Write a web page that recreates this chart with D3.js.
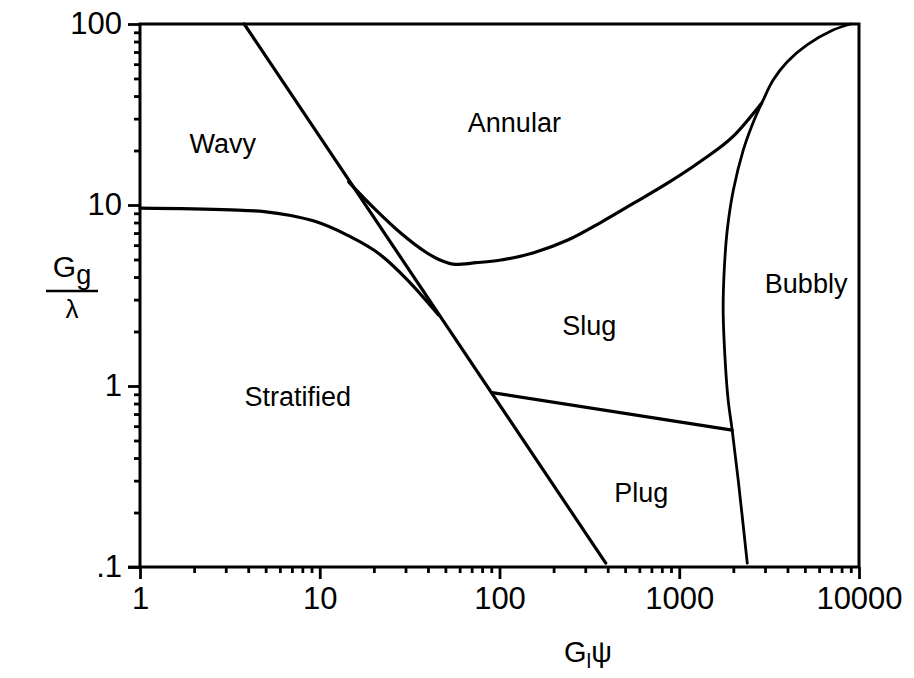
<!DOCTYPE html>
<html>
<head>
<meta charset="utf-8">
<script src="https://cdn.jsdelivr.net/npm/d3@7"></script>
<style>
  html, body { margin: 0; padding: 0; background: #fff; }
  svg text { font-family: "Liberation Sans", Arial, Helvetica, sans-serif; fill: #000; }
</style>
</head>
<body>
<svg id="chart" width="914" height="678"></svg>
<script>
// Axis ticks
const xTicksMajor = [1, 10, 100, 1000, 10000];
const xTickLabels = ["1", "10", "100", "1000", "10000"];
const yTicksMajor = [0.1, 1, 10, 100];
const yTickLabels = [".1", "1", "10", "100"];

// Wavy / Stratified boundary
const wavyStratX = [1, 3.2, 4.9, 6.9, 9.3, 14.3, 21.8, 30.8, 45.8];
const wavyStratY = [9.6, 9.4, 9.2, 8.75, 8.15, 6.8, 5.3, 3.85, 2.47];

// Steep boundary (Wavy|Annular, Stratified|Slug/Plug)
const steepX = [3.8, 390];
const steepY = [100, 0.105];

// Annular lower boundary
const annularX = [14.5, 20.5, 28.2, 38.8, 47, 57, 74, 100, 155, 240, 365, 555, 860, 1310, 2000, 2870];
const annularY = [13.4, 9.4, 7.0, 5.5, 4.95, 4.7, 4.8, 4.95, 5.45, 6.4, 8.0, 10.2, 13.2, 17.4, 24.0, 36.5];

// Bubbly boundary
const bubblyX = [9000, 7170, 5140, 3980, 3330, 2930, 2545, 2270, 2000, 1850, 1780, 1755, 1800, 1870, 1970, 2130, 2390];
const bubblyY = [100, 92.6, 76.6, 61.7, 49, 38, 27.7, 20.1, 12.1, 7.3, 4.4, 2.63, 1.39, 0.84, 0.57, 0.30, 0.105];

// Slug / Plug boundary
const slugPlugX = [91, 1970];
const slugPlugY = [0.92, 0.57];

// Regime names and their anchor points
const regimeNames = ["Wavy", "Annular", "Stratified", "Slug", "Plug", "Bubbly"];
const regimeX = [2.89, 121, 7.55, 316, 615, 5080];
const regimeY = [22, 28.8, 0.88, 2.17, 0.26, 3.71];

const W = 914, H = 678;
const margin = { top: 24, right: 55, bottom: 111, left: 140 };
const iw = W - margin.left - margin.right;
const ih = H - margin.top - margin.bottom;

const svg = d3.select("#chart");
const g = svg.append("g").attr("transform", `translate(${margin.left},${margin.top})`);

const x = d3.scaleLog().domain([1, 10000]).range([0, iw]);
const y = d3.scaleLog().domain([0.1, 100]).range([ih, 0]);

function minorTicks(lo, hi) {
  const out = [];
  for (let p = lo; p < hi; p *= 10) {
    for (let k = 2; k <= 9; k++) out.push(p * k);
  }
  return out;
}

const tickStroke = 2.8;
const fontTick = 31;

// x axis: minor ticks
const gxMinor = g.append("g").attr("transform", `translate(0,${ih})`)
  .call(d3.axisBottom(x).tickValues(minorTicks(1, 10000)).tickSize(6).tickSizeOuter(0).tickFormat(""));
// x axis: major ticks and labels
const gx = g.append("g").attr("transform", `translate(0,${ih})`)
  .call(d3.axisBottom(x).tickValues(xTicksMajor).tickSize(12).tickSizeOuter(0).tickPadding(8)
    .tickFormat((d, i) => xTickLabels[i]));

// y axis: minor ticks
const gyMinor = g.append("g")
  .call(d3.axisLeft(y).tickValues(minorTicks(0.1, 100)).tickSize(6).tickSizeOuter(0).tickFormat(""));
// y axis: major ticks and labels
const gy = g.append("g")
  .call(d3.axisLeft(y).tickValues(yTicksMajor).tickSize(12).tickSizeOuter(0).tickPadding(6)
    .tickFormat((d, i) => yTickLabels[i]));

[gxMinor, gx, gyMinor, gy].forEach(a => {
  a.selectAll("path.domain").remove();
  a.selectAll("line").attr("stroke", "#000").attr("stroke-width", tickStroke);
  a.selectAll("text").style("font-size", fontTick + "px").attr("fill", "#000");
});
// extend the x axis line slightly left, through the .1 tick
g.append("line").attr("x1", -12).attr("x2", 0).attr("y1", ih).attr("y2", ih)
  .attr("stroke", "#000").attr("stroke-width", tickStroke);

// plot frame
g.append("rect")
  .attr("x", x(1)).attr("y", y(100))
  .attr("width", x(10000) - x(1)).attr("height", y(0.1) - y(100))
  .attr("fill", "none").attr("stroke", "#000").attr("stroke-width", 3);

// boundary curves
function pts(xs, ys) { return xs.map((v, i) => [v, ys[i]]); }
const smoothX = d3.line().x(d => x(d[0])).y(d => y(d[1])).curve(d3.curveMonotoneX);
const smooth = d3.line().x(d => x(d[0])).y(d => y(d[1])).curve(d3.curveCatmullRom.alpha(0.5));
const straight = d3.line().x(d => x(d[0])).y(d => y(d[1]));

const curves = [
  { data: pts(wavyStratX, wavyStratY), gen: smoothX, w: 3.2 },
  { data: pts(steepX, steepY), gen: straight, w: 3.2 },
  { data: pts(annularX, annularY), gen: smoothX, w: 3.2 },
  { data: pts(bubblyX, bubblyY), gen: smooth, w: 2.8 },
  { data: pts(slugPlugX, slugPlugY), gen: straight, w: 3.2 }
];
g.selectAll("path.boundary").data(curves).enter().append("path")
  .attr("class", "boundary")
  .attr("d", c => c.gen(c.data))
  .attr("fill", "none").attr("stroke", "#000")
  .attr("stroke-width", c => c.w)
  .attr("stroke-linejoin", "round").attr("stroke-linecap", "round");

// regime labels
const fontRegime = 27;
g.selectAll("text.regime").data(regimeNames).enter().append("text")
  .attr("class", "regime")
  .attr("x", (d, i) => x(regimeX[i]))
  .attr("y", (d, i) => y(regimeY[i]) + fontRegime * 0.36)
  .attr("text-anchor", "middle")
  .style("font-size", fontRegime + "px")
  .text(d => d);

// x axis title: G_l psi
const xt = svg.append("text")
  .attr("x", 588)
  .attr("y", 662)
  .attr("text-anchor", "middle")
  .style("font-size", "29px");
xt.append("tspan").text("G");
xt.append("tspan").attr("dy", 6).style("font-size", "21px").text("l");
xt.append("tspan").attr("dy", -6).text("\u03C8");

// y axis title: G_g over lambda
const yt = svg.append("g").attr("transform", "translate(72,0)");
const yNum = yt.append("text").attr("x", 0).attr("y", 277).attr("text-anchor", "middle").style("font-size", "30px");
yNum.append("tspan").text("G");
yNum.append("tspan").attr("dy", 7).style("font-size", "27px").text("g");
yt.append("line").attr("x1", -26).attr("x2", 26).attr("y1", 291).attr("y2", 291)
  .attr("stroke", "#000").attr("stroke-width", 2.6);
yt.append("text").attr("x", 0).attr("y", 318).attr("text-anchor", "middle").style("font-size", "26px").text("\u03BB");
</script>
</body>
</html>
